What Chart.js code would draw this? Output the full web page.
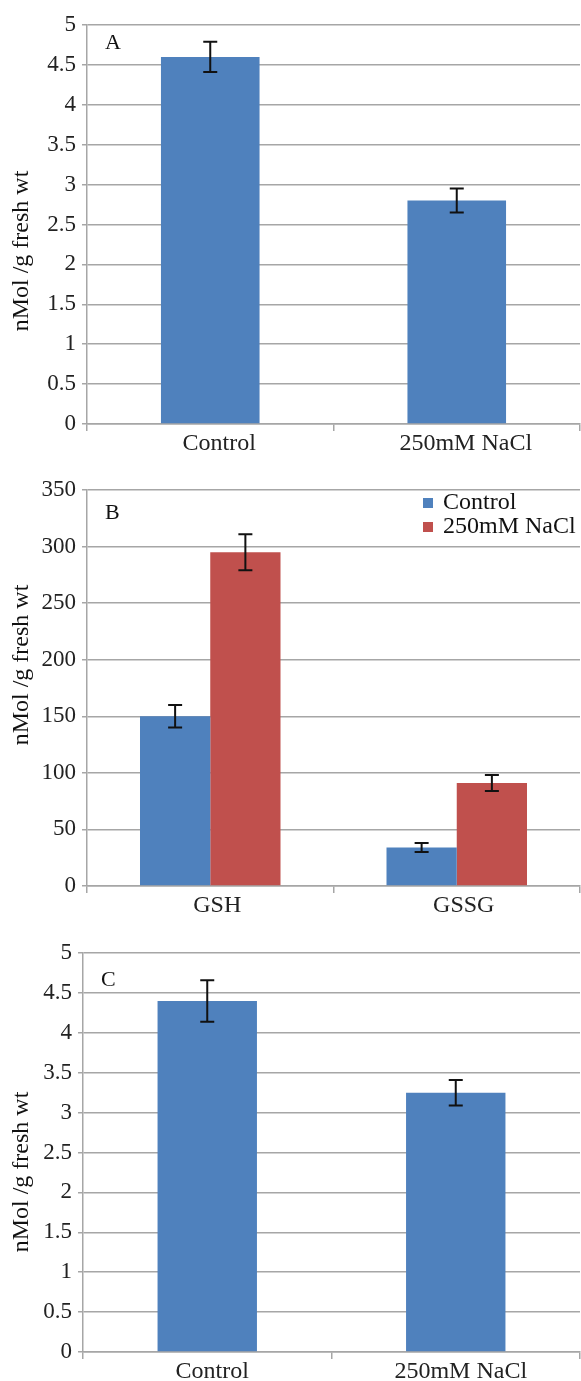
<!DOCTYPE html>
<html>
<head>
<meta charset="utf-8">
<script src="https://cdn.jsdelivr.net/npm/chart.js@4/dist/chart.umd.min.js"></script>
<style>
  body { margin: 0; background: #fff; }
  canvas { display: block; }
</style>
</head>
<body>
<canvas id="chartA" width="581" height="470"></canvas>
<canvas id="chartB" width="581" height="460"></canvas>
<canvas id="chartC" width="581" height="451"></canvas>
<script>
// Panel A
const categoriesA = ['Control', '250mM NaCl'];
const valuesA = [4.6, 2.8];
const errorsA = [0.19, 0.15];

// Panel B
const categoriesB = ['GSH', 'GSSG'];
const controlB = [150, 34];
const controlErrB = [10, 4];
const naclB = [295, 91];
const naclErrB = [16, 7];

// Panel C
const categoriesC = ['Control', '250mM NaCl'];
const valuesC = [4.4, 3.25];
const errorsC = [0.26, 0.16];

const yTitle = 'nMol /g fresh wt';

const BLUE = '#4f81bd';
const RED = '#c0504d';
const GRID = '#a6a6a6';
const FONT = 'Liberation Serif, Times New Roman, serif';

Chart.defaults.font.family = FONT;
Chart.defaults.color = '#222';

// draws error bars from dataset.errors using the chart's y scale
const errorBars = {
  id: 'errorBars',
  afterDatasetsDraw(chart) {
    const ctx = chart.ctx;
    const y = chart.scales.y;
    ctx.save();
    ctx.strokeStyle = '#111';
    ctx.lineWidth = 2;
    chart.data.datasets.forEach((ds, i) => {
      const meta = chart.getDatasetMeta(i);
      meta.data.forEach((bar, j) => {
        const v = ds.data[j], e = ds.errors[j];
        const top = y.getPixelForValue(v + e);
        const bot = y.getPixelForValue(v - e);
        const x = bar.x;
        ctx.beginPath();
        ctx.moveTo(x, top); ctx.lineTo(x, bot);
        ctx.moveTo(x - 7, top); ctx.lineTo(x + 7, top);
        ctx.moveTo(x - 7, bot); ctx.lineTo(x + 7, bot);
        ctx.stroke();
      });
    });
    ctx.restore();
  }
};

// panel letter, y title (Excel puts it off-centre) and optional legend
const panelDecor = {
  id: 'panelDecor',
  afterDraw(chart, args, opts) {
    const ctx = chart.ctx;
    const area = chart.chartArea;
    ctx.save();
    ctx.fillStyle = '#111';
    ctx.textBaseline = 'middle';
    ctx.font = '22px ' + FONT;
    ctx.fillText(opts.letter, area.left + opts.dx, area.top + opts.dy);

    ctx.save();
    ctx.translate(22, opts.titleY);
    ctx.rotate(-Math.PI / 2);
    ctx.textAlign = 'center';
    ctx.font = '24px ' + FONT;
    ctx.fillText(yTitle, 0, 0);
    ctx.restore();

    if (opts.legend) {
      ctx.font = '24px ' + FONT;
      chart.data.datasets.forEach((ds, i) => {
        const ly = area.top + 13 + i * 24;
        ctx.fillStyle = ds.backgroundColor;
        ctx.fillRect(opts.legendX, ly - 5, 10, 10);
        ctx.fillStyle = '#111';
        ctx.fillText(ds.label, opts.legendX + 20, ly);
      });
    }
    ctx.restore();
  }
};

function makeChart(id, labels, datasets, yMax, step, dims) {
  return new Chart(document.getElementById(id), {
    type: 'bar',
    data: { labels: labels, datasets: datasets },
    plugins: [errorBars, panelDecor],
    options: {
      responsive: false,
      animation: false,
      layout: { padding: { top: dims.top, right: 1, left: 0, bottom: 0 } },
      datasets: { bar: { categoryPercentage: dims.cat, barPercentage: 1 } },
      plugins: {
        legend: { display: false },
        tooltip: { enabled: false },
        panelDecor: dims.decor
      },
      scales: {
        x: {
          grid: { offset: true, drawOnChartArea: false, color: GRID, lineWidth: 1.5, tickLength: 7 },
          border: { color: GRID, width: 1.5 },
          ticks: { font: { size: 24 }, color: '#222', padding: -2, labelOffset: dims.lblOff },
          afterFit(s) { s.height = dims.xh; }
        },
        y: {
          min: 0, max: yMax,
          ticks: { stepSize: step, font: { size: 23 }, color: '#222', padding: 6, callback: v => String(v) },
          grid: { color: GRID, lineWidth: 1.5, tickLength: 5 },
          border: { color: GRID, width: 1.5 },
          afterFit(s) { s.width = dims.yw; }
        }
      }
    }
  });
}

makeChart('chartA', categoriesA,
  [{ label: 'Control', data: valuesA, errors: errorsA, backgroundColor: BLUE }],
  5, 0.5,
  { top: 25, xh: 46, yw: 87, cat: 0.4, lblOff: 9, decor: { letter: 'A', dx: 18, dy: 18, titleY: 251 } });

makeChart('chartB', categoriesB,
  [
    { label: 'Control', data: controlB, errors: controlErrB, backgroundColor: BLUE },
    { label: '250mM NaCl', data: naclB, errors: naclErrB, backgroundColor: RED }
  ],
  350, 50,
  { top: 20, xh: 44, yw: 87, cat: 0.57, lblOff: 7, decor: { letter: 'B', dx: 18, dy: 23, titleY: 195, legend: true, legendX: 423 } });

makeChart('chartC', categoriesC,
  [{ label: 'Control', data: valuesC, errors: errorsC, backgroundColor: BLUE }],
  5, 0.5,
  { top: 23, xh: 29, yw: 83, cat: 0.4, lblOff: 5, decor: { letter: 'C', dx: 18, dy: 27, titleY: 242 } });
</script>
</body>
</html>
